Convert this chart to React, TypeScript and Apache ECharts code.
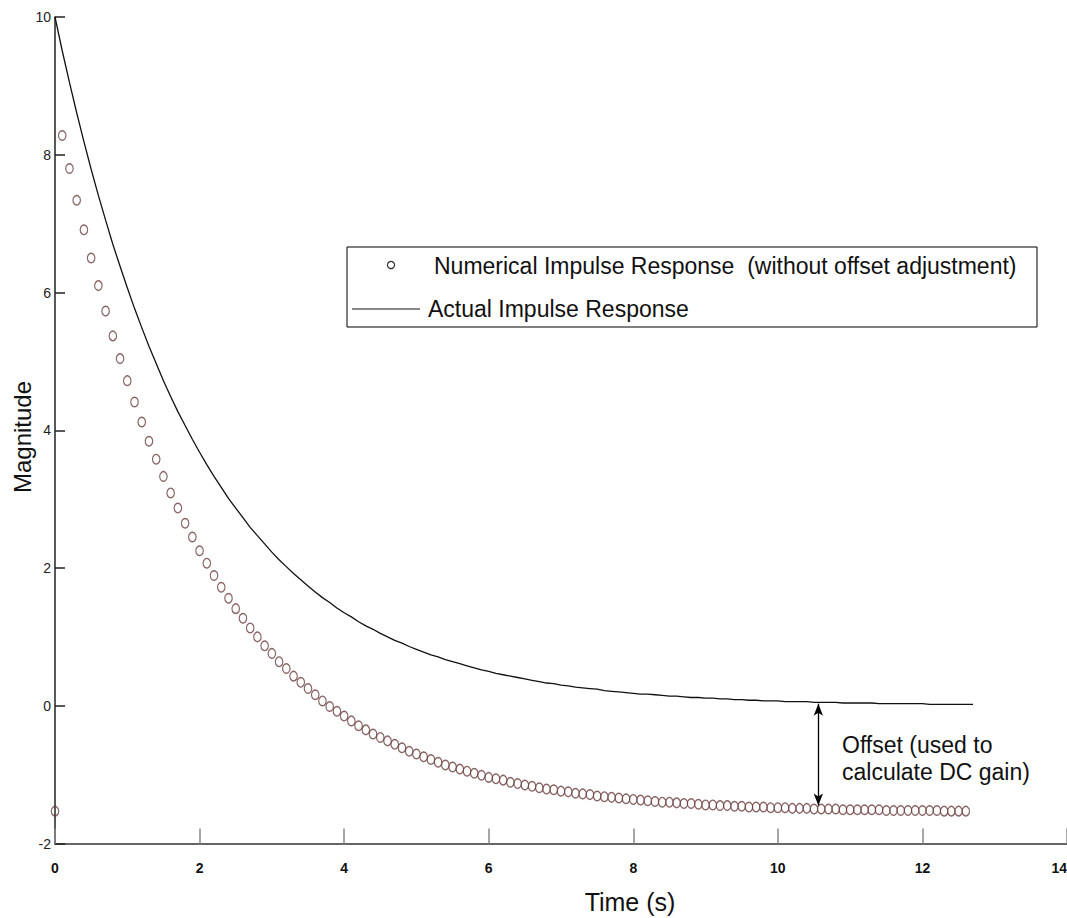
import React, { useEffect, useRef } from "react";
import * as echarts from "echarts";

// Sampling interval of both responses (seconds)
const timeStep = 0.1;

// Actual impulse response, sampled every timeStep from t = 0
const actualResponse = [
  10.0, 9.51, 9.05, 8.61, 8.19, 7.79, 7.41, 7.05, 6.7, 6.38,
  6.07, 5.77, 5.49, 5.22, 4.97, 4.72, 4.49, 4.27, 4.07, 3.87,
  3.68, 3.5, 3.33, 3.17, 3.01, 2.87, 2.73, 2.59, 2.47, 2.35,
  2.23, 2.12, 2.02, 1.92, 1.83, 1.74, 1.65, 1.57, 1.5, 1.42,
  1.35, 1.29, 1.22, 1.16, 1.11, 1.05, 1.0, 0.95, 0.91, 0.86,
  0.82, 0.78, 0.74, 0.71, 0.67, 0.64, 0.61, 0.58, 0.55, 0.52,
  0.5, 0.47, 0.45, 0.43, 0.41, 0.39, 0.37, 0.35, 0.33, 0.32,
  0.3, 0.29, 0.27, 0.26, 0.25, 0.24, 0.22, 0.21, 0.2, 0.19,
  0.18, 0.17, 0.17, 0.16, 0.15, 0.14, 0.14, 0.13, 0.12, 0.12,
  0.11, 0.11, 0.1, 0.1, 0.09, 0.09, 0.08, 0.08, 0.07, 0.07,
  0.07, 0.06, 0.06, 0.06, 0.06, 0.05, 0.05, 0.05, 0.05, 0.04,
  0.04, 0.04, 0.04, 0.04, 0.03, 0.03, 0.03, 0.03, 0.03, 0.03,
  0.03, 0.02, 0.02, 0.02, 0.02, 0.02, 0.02, 0.02,
];

// Numerical impulse response (no offset adjustment), same sampling
const numericalResponse = [
  -1.53, 8.28, 7.8, 7.34, 6.91, 6.5, 6.1, 5.73, 5.37, 5.04,
  4.72, 4.41, 4.12, 3.84, 3.58, 3.33, 3.09, 2.87, 2.65, 2.45,
  2.25, 2.07, 1.89, 1.72, 1.56, 1.41, 1.27, 1.13, 1.0, 0.87,
  0.76, 0.64, 0.54, 0.43, 0.34, 0.25, 0.16, 0.07, -0.01, -0.08,
  -0.15, -0.22, -0.29, -0.35, -0.41, -0.46, -0.51, -0.56, -0.61, -0.66,
  -0.7, -0.74, -0.78, -0.82, -0.86, -0.89, -0.92, -0.95, -0.98, -1.01,
  -1.04, -1.06, -1.08, -1.11, -1.13, -1.15, -1.17, -1.19, -1.21, -1.22,
  -1.24, -1.25, -1.27, -1.28, -1.29, -1.31, -1.32, -1.33, -1.34, -1.35,
  -1.36, -1.37, -1.38, -1.39, -1.4, -1.4, -1.41, -1.42, -1.42, -1.43,
  -1.44, -1.44, -1.45, -1.45, -1.46, -1.46, -1.47, -1.47, -1.47, -1.48,
  -1.48, -1.48, -1.49, -1.49, -1.49, -1.5, -1.5, -1.5, -1.5, -1.51,
  -1.51, -1.51, -1.51, -1.51, -1.51, -1.52, -1.52, -1.52, -1.52, -1.52,
  -1.52, -1.52, -1.52, -1.53, -1.53, -1.53, -1.53,
];

// Axis ranges
const xRange = { min: 0, max: 14, interval: 2 };
const yRange = { min: -2, max: 10, interval: 2 };

// Offset marker between the two curves
const offsetTime = 10.56;
const offsetTop = 0.03;
const offsetBottom = -1.45;

const legendLabels = [
  "Numerical Impulse Response  (without offset adjustment)",
  "Actual Impulse Response",
];
const offsetNote = "Offset (used to\ncalculate DC gain)";
const xTitle = "Time (s)";
const yTitle = "Magnitude";

const FONT = "'Liberation Sans', Arial, sans-serif";

export default function App() {
  const ref = useRef<HTMLDivElement>(null);

  useEffect(() => {
    document.body.style.margin = "0";
    if (!ref.current) return;
    const chart = echarts.init(ref.current, undefined, { renderer: "svg" });

    const actualData = actualResponse.map((v, i) => [+(i * timeStep).toFixed(2), v]);
    const numericalData = numericalResponse.map((v, i) => [+(i * timeStep).toFixed(2), v]);

    chart.setOption({
      animation: false,
      backgroundColor: "#fff",
      textStyle: { fontFamily: FONT },
      grid: {
        left: 55,
        right: 0,
        top: 17,
        bottom: 74.5,
        containLabel: false,
        outerBoundsMode: "none",
      },
      xAxis: {
        type: "value",
        min: xRange.min,
        max: xRange.max,
        interval: xRange.interval,
        axisLine: { show: true, onZero: false, lineStyle: { color: "#666", width: 2 } },
        axisTick: { show: true, inside: true, length: 15, lineStyle: { color: "#888", width: 1.5 } },
        axisLabel: {
          margin: 17,
          fontSize: 14,
          fontWeight: "bold",
          color: "#111",
          fontFamily: FONT,
          showMinLabel: true,
          showMaxLabel: true,
          alignMaxLabel: "right",
        },
        splitLine: { show: false },
      },
      yAxis: {
        type: "value",
        min: yRange.min,
        max: yRange.max,
        interval: yRange.interval,
        axisLine: { show: true, onZero: false, lineStyle: { color: "#222", width: 1.5 } },
        axisTick: { show: true, inside: true, length: 10, lineStyle: { color: "#222", width: 1.5 } },
        axisLabel: {
          margin: 4,
          fontSize: 14,
          color: "#222",
          fontFamily: FONT,
        },
        splitLine: { show: false },
      },
      series: [
        {
          name: legendLabels[0],
          type: "scatter",
          data: numericalData,
          symbol: "circle",
          symbolSize: [7.5, 9.5],
          itemStyle: {
            color: "rgba(255,255,255,0)",
            borderColor: "#6a3c3c",
            borderWidth: 1.3,
          },
          z: 2,
        },
        {
          name: legendLabels[1],
          type: "line",
          data: actualData,
          showSymbol: false,
          lineStyle: { color: "#111", width: 1.3 },
          z: 3,
          markLine: {
            silent: true,
            symbol: ["arrow", "arrow"],
            symbolSize: [7, 12],
            label: { show: false },
            lineStyle: { color: "#000", width: 1.3, type: "solid" },
            data: [
              [
                { coord: [offsetTime, offsetTop] },
                { coord: [offsetTime, offsetBottom] },
              ],
            ],
          },
        },
      ],
      graphic: [
        // legend box
        {
          type: "rect",
          shape: { x: 347, y: 247, width: 690, height: 80 },
          style: { fill: "#fff", stroke: "#000", lineWidth: 1 },
          z: 10,
        },
        {
          type: "circle",
          shape: { cx: 391, cy: 265, r: 3.6 },
          style: { fill: "none", stroke: "#333", lineWidth: 1.2 },
          z: 11,
        },
        {
          type: "text",
          x: 434,
          y: 266,
          style: {
            text: legendLabels[0],
            fontSize: 23,
            fontFamily: FONT,
            fill: "#111",
            verticalAlign: "middle",
          },
          z: 11,
        },
        {
          type: "line",
          shape: { x1: 352, y1: 309, x2: 420, y2: 309 },
          style: { stroke: "#111", lineWidth: 1.2 },
          z: 11,
        },
        {
          type: "text",
          x: 428,
          y: 309,
          style: {
            text: legendLabels[1],
            fontSize: 23,
            fontFamily: FONT,
            fill: "#111",
            verticalAlign: "middle",
          },
          z: 11,
        },
        // offset note
        {
          type: "text",
          x: 842,
          y: 731,
          style: {
            text: offsetNote,
            fontSize: 23,
            lineHeight: 27,
            fontFamily: FONT,
            fill: "#111",
            verticalAlign: "top",
          },
          z: 11,
        },
        // axis titles
        {
          type: "text",
          x: 630,
          y: 902,
          style: {
            text: xTitle,
            fontSize: 25,
            fontFamily: FONT,
            fill: "#111",
            align: "center",
            verticalAlign: "middle",
          },
        },
        {
          type: "text",
          x: 22,
          y: 437,
          rotation: Math.PI / 2,
          style: {
            text: yTitle,
            fontSize: 24,
            fontFamily: FONT,
            fill: "#111",
            align: "center",
            verticalAlign: "middle",
          },
        },
      ],
    });

    return () => chart.dispose();
  }, []);

  return <div ref={ref} style={{ width: 1067, height: 918 }} />;
}
